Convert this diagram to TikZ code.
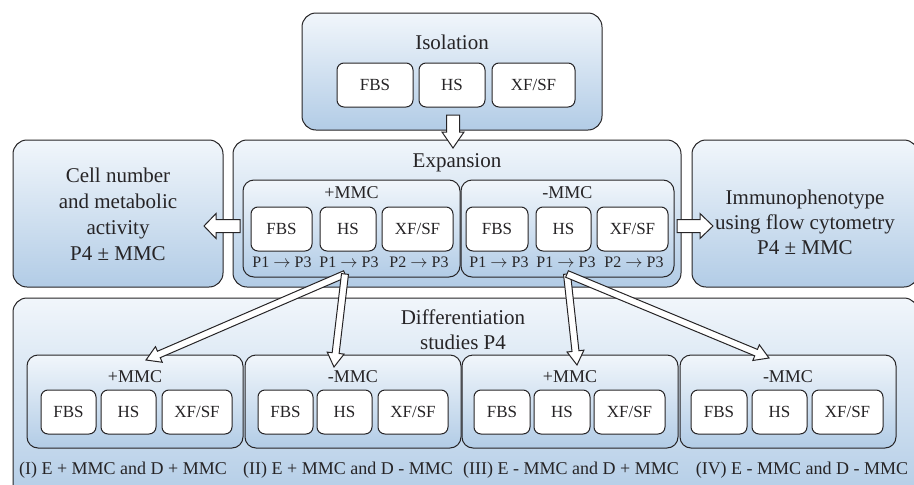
\documentclass[tikz,border=0pt]{standalone}
\usepackage{fontspec}
\setmainfont{Liberation Serif}
\usepackage{tikz}
\usetikzlibrary{calc,positioning}

\definecolor{boxtop}{RGB}{241,246,251}
\definecolor{boxbot}{RGB}{178,204,230}
\definecolor{edge}{RGB}{38,36,38}

\tikzset{
	bigbox/.style={draw=edge, line width=1pt, rounded corners=14pt, top color=boxtop, bottom color=boxbot, inner sep=0pt},
	subbox/.style={bigbox, rounded corners=11pt},
	cell/.style={draw=edge, line width=1pt, fill=white, rounded corners=7pt, inner sep=0pt, minimum height=44pt, text=edge, font=\fontsize{17}{20}\selectfont},
	headtext/.style={text=edge, align=center, font=\fontsize{21}{26}\selectfont},
	mmc/.style={text=edge, font=\fontsize{18}{21}\selectfont},
	plab/.style={text=edge, anchor=north, font=\fontsize{16}{19}\selectfont},
	combo/.style={text=edge, inner sep=0pt, font=\fontsize{18}{21}\selectfont},
	arrowline/.style={draw=edge, line width=1pt, fill=white, line join=miter},
}

% hollow block arrow: from, to, half shaft, half head, head length
\newcommand{\blockarrow}[5]{%
	\coordinate (ba) at ($(#2)!#5!(#1)$);
	\draw[arrowline] ($(#1)!#3!90:(#2)$) -- ($(ba)!#3!90:(#2)$) -- ($(ba)!#4!90:(#2)$) -- (#2)
		-- ($(ba)!#4!-90:(#2)$) -- ($(ba)!#3!-90:(#2)$) -- ($(#1)!#3!-90:(#2)$) -- cycle;}

\begin{document}
\begin{tikzpicture}[x=1pt,y=-1pt]
	\useasboundingbox (0,0) rectangle (914,485);

	% isolation
	\node[bigbox, minimum width=300pt, minimum height=117pt] at (452,71.5) (iso) {};
	\node[headtext] at (452,42) (isot) {Isolation};
	\node[cell, minimum width=76pt] at (375,85) (isofbs) {FBS};
	\node[cell, minimum width=66pt] at (452,85) (isohs) {HS};
	\node[cell, minimum width=83pt] at (533.5,85) (isoxf) {XF/SF};

	% side boxes
	\node[bigbox, minimum width=210pt, minimum height=147pt] at (118,213.5) (cell) {};
	\node[headtext] at (118,214) (cellt) {Cell number\\and metabolic\\activity\\P4 ± MMC};
	\node[bigbox, minimum width=226pt, minimum height=147pt] at (805,213.5) (immu) {};
	\node[headtext, font=\fontsize{21}{25}\selectfont] at (805,222) (immut) {Immunophenotype\\using flow cytometry\\P4 ± MMC};

	% expansion
	\node[bigbox, minimum width=448pt, minimum height=147pt] at (457,213.5) (exp) {};
	\node[headtext] at (457,163) (expt) {Expansion};
	\node[subbox, minimum width=217pt, minimum height=97pt] at (351.5,228.5) (expp) {};
	\node[subbox, minimum width=213pt, minimum height=97pt] at (567.5,228.5) (expm) {};
	\node[mmc] at (351.5,193) (exppt) {+MMC};
	\node[mmc] at (567.5,193) (expmt) {-MMC};
	\node[cell, minimum width=61pt] at (281.5,229) (eFBSp) {FBS};
	\node[cell, minimum width=56pt] at (348,229) (eHSp) {HS};
	\node[cell, minimum width=71pt] at (417.5,229) (eXFp) {XF/SF};
	\node[cell, minimum width=62pt] at (497,229) (eFBSm) {FBS};
	\node[cell, minimum width=55pt] at (563.5,229) (eHSm) {HS};
	\node[cell, minimum width=71pt] at (632.5,229) (eXFm) {XF/SF};
	\node[plab] at (282,253) (pa) {P1 $\rightarrow$ P3};
	\node[plab] at (349,253) (pb) {P1 $\rightarrow$ P3};
	\node[plab] at (419,253) (pc) {P2 $\rightarrow$ P3};
	\node[plab] at (499,253) (pd) {P1 $\rightarrow$ P3};
	\node[plab] at (566,253) (pe) {P1 $\rightarrow$ P3};
	\node[plab] at (634,253) (pf) {P2 $\rightarrow$ P3};

	% differentiation
	\node[bigbox, minimum width=905pt, minimum height=204pt] at (465.5,400) (diff) {};
	\node[headtext, font=\fontsize{21}{25}\selectfont] at (463,329.5) (difft) {Differentiation\\studies P4};
	\node[subbox, minimum width=216pt, minimum height=93pt] at (135,401.5) (d1) {};
	\node[subbox, minimum width=216pt, minimum height=93pt] at (353,401.5) (d2) {};
	\node[subbox, minimum width=216pt, minimum height=93pt] at (570,401.5) (d3) {};
	\node[subbox, minimum width=216pt, minimum height=93pt] at (788,401.5) (d4) {};
	\node[mmc] at (135,377) (d1t) {+MMC};
	\node[mmc] at (353,377) (d2t) {-MMC};
	\node[mmc] at (570,377) (d3t) {+MMC};
	\node[mmc] at (788,377) (d4t) {-MMC};
	\node[cell, minimum width=55pt] at (68.5,412) (d1fbs) {FBS};
	\node[cell, minimum width=55pt] at (128.5,412) (d1hs) {HS};
	\node[cell, minimum width=70pt] at (197,412) (d1xf) {XF/SF};
	\node[cell, minimum width=55pt] at (285.5,412) (d2fbs) {FBS};
	\node[cell, minimum width=55pt] at (344.5,412) (d2hs) {HS};
	\node[cell, minimum width=70pt] at (413,412) (d2xf) {XF/SF};
	\node[cell, minimum width=56pt] at (502,412) (d3fbs) {FBS};
	\node[cell, minimum width=56pt] at (562,412) (d3hs) {HS};
	\node[cell, minimum width=71pt] at (629.5,412) (d3xf) {XF/SF};
	\node[cell, minimum width=56pt] at (719,412) (d4fbs) {FBS};
	\node[cell, minimum width=55pt] at (779.5,412) (d4hs) {HS};
	\node[cell, minimum width=71pt] at (847.5,412) (d4xf) {XF/SF};
	\node[combo] at (123,470) (c1) {(I) E + MMC and D + MMC};
	\node[combo] at (348,470) (c2) {(II) E + MMC and D - MMC};
	\node[combo] at (571,470) (c3) {(III) E - MMC and D + MMC};
	\node[combo] at (802,470) (c4) {(IV) E - MMC and D - MMC};

	% arrows
	\coordinate (isoout) at (453,115);
	\coordinate (expin) at (453,148);
	\coordinate (expl) at (240,226);
	\coordinate (cellin) at (204,226);
	\coordinate (expr) at (677,226);
	\coordinate (immuin) at (713,226);
	\coordinate (op) at (345,274);
	\coordinate (om) at (567,274);
	\coordinate (t1) at (146,360);
	\coordinate (t2) at (334,367);
	\coordinate (t3) at (577,365);
	\coordinate (t4) at (769,358);
	\blockarrow{isoout}{expin}{6.5pt}{11pt}{16pt}
	\blockarrow{expl}{cellin}{6.5pt}{12.5pt}{12pt}
	\blockarrow{expr}{immuin}{6.5pt}{12.5pt}{13pt}
	\blockarrow{op}{t1}{3.5pt}{8.5pt}{14pt}
	\blockarrow{op}{t2}{3.5pt}{8.5pt}{14pt}
	\blockarrow{om}{t3}{3.5pt}{8.5pt}{14pt}
	\blockarrow{om}{t4}{3.5pt}{8.5pt}{14pt}
\end{tikzpicture}
\end{document}
